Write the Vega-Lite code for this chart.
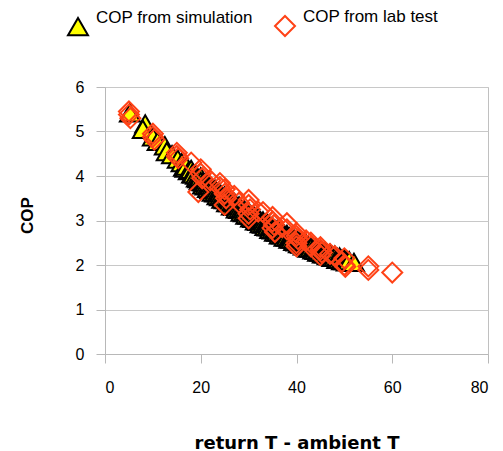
{
  "$schema": "https://vega.github.io/schema/vega-lite/v6.json",
  "width": 383,
  "height": 267,
  "autosize": {"type": "none"},
  "padding": {"left": 105, "top": 87, "right": 15, "bottom": 97},
  "background": "white",
  "config": {
    "view": {"stroke": "#c0c0c0", "strokeWidth": 1},
    "font": "Liberation Sans",
    "axis": {
      "domainColor": "#b8b8b8",
      "tickColor": "#b8b8b8",
      "gridColor": "#c8c8c8",
      "tickSize": 9,
      "labelFontSize": 16,
      "labelColor": "#000000",
      "labelFont": "Liberation Sans",
      "titleColor": "#000000",
      "titleFontWeight": "bold"
    }
  },
  "datasets": {
    "pts": [
      {"dT": 5.2, "COP": 5.42, "series": "COP from simulation"},
      {"dT": 8.4, "COP": 5.17, "series": "COP from simulation"},
      {"dT": 7.9, "COP": 5.05, "series": "COP from simulation"},
      {"dT": 10, "COP": 4.88, "series": "COP from simulation"},
      {"dT": 11, "COP": 4.78, "series": "COP from simulation"},
      {"dT": 12.5, "COP": 4.68, "series": "COP from simulation"},
      {"dT": 12.9, "COP": 4.55, "series": "COP from simulation"},
      {"dT": 14, "COP": 4.48, "series": "COP from simulation"},
      {"dT": 15.2, "COP": 4.38, "series": "COP from simulation"},
      {"dT": 16, "COP": 4.3, "series": "COP from simulation"},
      {"dT": 16.5, "COP": 4.2, "series": "COP from simulation"},
      {"dT": 16.8, "COP": 4.18, "series": "COP from simulation"},
      {"dT": 17, "COP": 4.22, "series": "COP from simulation"},
      {"dT": 17.5, "COP": 4.12, "series": "COP from simulation"},
      {"dT": 18, "COP": 4.15, "series": "COP from simulation"},
      {"dT": 18.2, "COP": 4.05, "series": "COP from simulation"},
      {"dT": 18.5, "COP": 4.05, "series": "COP from simulation"},
      {"dT": 19, "COP": 4.02, "series": "COP from simulation"},
      {"dT": 19.2, "COP": 3.96, "series": "COP from simulation"},
      {"dT": 19.5, "COP": 3.94, "series": "COP from simulation"},
      {"dT": 19.8, "COP": 3.9, "series": "COP from simulation"},
      {"dT": 20, "COP": 3.98, "series": "COP from simulation"},
      {"dT": 20, "COP": 3.88, "series": "COP from simulation"},
      {"dT": 20.5, "COP": 3.87, "series": "COP from simulation"},
      {"dT": 20.5, "COP": 3.8, "series": "COP from simulation"},
      {"dT": 21, "COP": 3.86, "series": "COP from simulation"},
      {"dT": 21, "COP": 3.78, "series": "COP from simulation"},
      {"dT": 21.5, "COP": 3.79, "series": "COP from simulation"},
      {"dT": 21.5, "COP": 3.72, "series": "COP from simulation"},
      {"dT": 22, "COP": 3.78, "series": "COP from simulation"},
      {"dT": 22, "COP": 3.7, "series": "COP from simulation"},
      {"dT": 22.5, "COP": 3.71, "series": "COP from simulation"},
      {"dT": 22.5, "COP": 3.64, "series": "COP from simulation"},
      {"dT": 23, "COP": 3.7, "series": "COP from simulation"},
      {"dT": 23, "COP": 3.62, "series": "COP from simulation"},
      {"dT": 23.5, "COP": 3.63, "series": "COP from simulation"},
      {"dT": 23.5, "COP": 3.56, "series": "COP from simulation"},
      {"dT": 24, "COP": 3.62, "series": "COP from simulation"},
      {"dT": 24, "COP": 3.54, "series": "COP from simulation"},
      {"dT": 24.5, "COP": 3.55, "series": "COP from simulation"},
      {"dT": 24.5, "COP": 3.48, "series": "COP from simulation"},
      {"dT": 25, "COP": 3.55, "series": "COP from simulation"},
      {"dT": 25, "COP": 3.47, "series": "COP from simulation"},
      {"dT": 25.5, "COP": 3.47, "series": "COP from simulation"},
      {"dT": 25.5, "COP": 3.4, "series": "COP from simulation"},
      {"dT": 26, "COP": 3.47, "series": "COP from simulation"},
      {"dT": 26, "COP": 3.4, "series": "COP from simulation"},
      {"dT": 26.5, "COP": 3.4, "series": "COP from simulation"},
      {"dT": 26.5, "COP": 3.33, "series": "COP from simulation"},
      {"dT": 27, "COP": 3.4, "series": "COP from simulation"},
      {"dT": 27, "COP": 3.32, "series": "COP from simulation"},
      {"dT": 27.5, "COP": 3.33, "series": "COP from simulation"},
      {"dT": 27.5, "COP": 3.26, "series": "COP from simulation"},
      {"dT": 28, "COP": 3.33, "series": "COP from simulation"},
      {"dT": 28, "COP": 3.25, "series": "COP from simulation"},
      {"dT": 28.5, "COP": 3.26, "series": "COP from simulation"},
      {"dT": 28.5, "COP": 3.19, "series": "COP from simulation"},
      {"dT": 29, "COP": 3.26, "series": "COP from simulation"},
      {"dT": 29, "COP": 3.18, "series": "COP from simulation"},
      {"dT": 29.5, "COP": 3.19, "series": "COP from simulation"},
      {"dT": 29.5, "COP": 3.12, "series": "COP from simulation"},
      {"dT": 30, "COP": 3.2, "series": "COP from simulation"},
      {"dT": 30, "COP": 3.12, "series": "COP from simulation"},
      {"dT": 30.5, "COP": 3.12, "series": "COP from simulation"},
      {"dT": 30.5, "COP": 3.06, "series": "COP from simulation"},
      {"dT": 31, "COP": 3.12, "series": "COP from simulation"},
      {"dT": 31, "COP": 3.05, "series": "COP from simulation"},
      {"dT": 31.5, "COP": 3.05, "series": "COP from simulation"},
      {"dT": 31.5, "COP": 2.99, "series": "COP from simulation"},
      {"dT": 32, "COP": 3.05, "series": "COP from simulation"},
      {"dT": 32, "COP": 2.98, "series": "COP from simulation"},
      {"dT": 32.5, "COP": 2.99, "series": "COP from simulation"},
      {"dT": 32.5, "COP": 2.93, "series": "COP from simulation"},
      {"dT": 33, "COP": 2.99, "series": "COP from simulation"},
      {"dT": 33, "COP": 2.92, "series": "COP from simulation"},
      {"dT": 33.5, "COP": 2.93, "series": "COP from simulation"},
      {"dT": 33.5, "COP": 2.87, "series": "COP from simulation"},
      {"dT": 34, "COP": 2.93, "series": "COP from simulation"},
      {"dT": 34, "COP": 2.86, "series": "COP from simulation"},
      {"dT": 34.5, "COP": 2.86, "series": "COP from simulation"},
      {"dT": 34.5, "COP": 2.8, "series": "COP from simulation"},
      {"dT": 35, "COP": 2.86, "series": "COP from simulation"},
      {"dT": 35, "COP": 2.79, "series": "COP from simulation"},
      {"dT": 35.5, "COP": 2.8, "series": "COP from simulation"},
      {"dT": 35.5, "COP": 2.74, "series": "COP from simulation"},
      {"dT": 36, "COP": 2.8, "series": "COP from simulation"},
      {"dT": 36, "COP": 2.74, "series": "COP from simulation"},
      {"dT": 36.5, "COP": 2.74, "series": "COP from simulation"},
      {"dT": 36.5, "COP": 2.68, "series": "COP from simulation"},
      {"dT": 37, "COP": 2.74, "series": "COP from simulation"},
      {"dT": 37, "COP": 2.68, "series": "COP from simulation"},
      {"dT": 37.5, "COP": 2.69, "series": "COP from simulation"},
      {"dT": 37.5, "COP": 2.63, "series": "COP from simulation"},
      {"dT": 38, "COP": 2.69, "series": "COP from simulation"},
      {"dT": 38, "COP": 2.63, "series": "COP from simulation"},
      {"dT": 38.5, "COP": 2.63, "series": "COP from simulation"},
      {"dT": 38.5, "COP": 2.58, "series": "COP from simulation"},
      {"dT": 39, "COP": 2.63, "series": "COP from simulation"},
      {"dT": 39, "COP": 2.58, "series": "COP from simulation"},
      {"dT": 39.5, "COP": 2.58, "series": "COP from simulation"},
      {"dT": 39.5, "COP": 2.53, "series": "COP from simulation"},
      {"dT": 40, "COP": 2.58, "series": "COP from simulation"},
      {"dT": 40, "COP": 2.52, "series": "COP from simulation"},
      {"dT": 40.5, "COP": 2.53, "series": "COP from simulation"},
      {"dT": 40.5, "COP": 2.48, "series": "COP from simulation"},
      {"dT": 41, "COP": 2.53, "series": "COP from simulation"},
      {"dT": 41, "COP": 2.47, "series": "COP from simulation"},
      {"dT": 41.5, "COP": 2.48, "series": "COP from simulation"},
      {"dT": 41.5, "COP": 2.43, "series": "COP from simulation"},
      {"dT": 42, "COP": 2.48, "series": "COP from simulation"},
      {"dT": 42, "COP": 2.42, "series": "COP from simulation"},
      {"dT": 42.5, "COP": 2.43, "series": "COP from simulation"},
      {"dT": 42.5, "COP": 2.38, "series": "COP from simulation"},
      {"dT": 43, "COP": 2.43, "series": "COP from simulation"},
      {"dT": 43, "COP": 2.38, "series": "COP from simulation"},
      {"dT": 43.5, "COP": 2.38, "series": "COP from simulation"},
      {"dT": 43.5, "COP": 2.34, "series": "COP from simulation"},
      {"dT": 44, "COP": 2.38, "series": "COP from simulation"},
      {"dT": 44, "COP": 2.33, "series": "COP from simulation"},
      {"dT": 44.5, "COP": 2.34, "series": "COP from simulation"},
      {"dT": 44.5, "COP": 2.29, "series": "COP from simulation"},
      {"dT": 45, "COP": 2.34, "series": "COP from simulation"},
      {"dT": 45, "COP": 2.29, "series": "COP from simulation"},
      {"dT": 45.5, "COP": 2.29, "series": "COP from simulation"},
      {"dT": 45.5, "COP": 2.25, "series": "COP from simulation"},
      {"dT": 46, "COP": 2.3, "series": "COP from simulation"},
      {"dT": 46, "COP": 2.25, "series": "COP from simulation"},
      {"dT": 46.5, "COP": 2.25, "series": "COP from simulation"},
      {"dT": 46.5, "COP": 2.21, "series": "COP from simulation"},
      {"dT": 47, "COP": 2.26, "series": "COP from simulation"},
      {"dT": 47, "COP": 2.2, "series": "COP from simulation"},
      {"dT": 47.5, "COP": 2.21, "series": "COP from simulation"},
      {"dT": 47.5, "COP": 2.17, "series": "COP from simulation"},
      {"dT": 48, "COP": 2.22, "series": "COP from simulation"},
      {"dT": 48, "COP": 2.17, "series": "COP from simulation"},
      {"dT": 48.5, "COP": 2.17, "series": "COP from simulation"},
      {"dT": 48.5, "COP": 2.13, "series": "COP from simulation"},
      {"dT": 49, "COP": 2.18, "series": "COP from simulation"},
      {"dT": 49, "COP": 2.13, "series": "COP from simulation"},
      {"dT": 49.5, "COP": 2.13, "series": "COP from simulation"},
      {"dT": 49.5, "COP": 2.1, "series": "COP from simulation"},
      {"dT": 50, "COP": 2.14, "series": "COP from simulation"},
      {"dT": 50, "COP": 2.1, "series": "COP from simulation"},
      {"dT": 50.5, "COP": 2.1, "series": "COP from simulation"},
      {"dT": 50.5, "COP": 2.07, "series": "COP from simulation"},
      {"dT": 51, "COP": 2.1, "series": "COP from simulation"},
      {"dT": 52, "COP": 2.06, "series": "COP from simulation"},
      {"dT": 5, "COP": 5.45, "series": "COP from lab test"},
      {"dT": 5, "COP": 5.38, "series": "COP from lab test"},
      {"dT": 5.3, "COP": 5.3, "series": "COP from lab test"},
      {"dT": 10, "COP": 4.95, "series": "COP from lab test"},
      {"dT": 10, "COP": 4.88, "series": "COP from lab test"},
      {"dT": 10.3, "COP": 4.82, "series": "COP from lab test"},
      {"dT": 15, "COP": 4.52, "series": "COP from lab test"},
      {"dT": 15, "COP": 4.45, "series": "COP from lab test"},
      {"dT": 15.3, "COP": 4.4, "series": "COP from lab test"},
      {"dT": 18, "COP": 4.3, "series": "COP from lab test"},
      {"dT": 20, "COP": 4.15, "series": "COP from lab test"},
      {"dT": 20, "COP": 4.05, "series": "COP from lab test"},
      {"dT": 20.3, "COP": 3.95, "series": "COP from lab test"},
      {"dT": 19.5, "COP": 3.64, "series": "COP from lab test"},
      {"dT": 22, "COP": 3.9, "series": "COP from lab test"},
      {"dT": 24, "COP": 3.84, "series": "COP from lab test"},
      {"dT": 24, "COP": 3.75, "series": "COP from lab test"},
      {"dT": 25, "COP": 3.7, "series": "COP from lab test"},
      {"dT": 25, "COP": 3.6, "series": "COP from lab test"},
      {"dT": 25.3, "COP": 3.5, "series": "COP from lab test"},
      {"dT": 25, "COP": 3.35, "series": "COP from lab test"},
      {"dT": 27, "COP": 3.55, "series": "COP from lab test"},
      {"dT": 28, "COP": 3.4, "series": "COP from lab test"},
      {"dT": 30, "COP": 3.46, "series": "COP from lab test"},
      {"dT": 30, "COP": 3.35, "series": "COP from lab test"},
      {"dT": 30.3, "COP": 3.25, "series": "COP from lab test"},
      {"dT": 30, "COP": 3.15, "series": "COP from lab test"},
      {"dT": 30, "COP": 3.05, "series": "COP from lab test"},
      {"dT": 32, "COP": 3.2, "series": "COP from lab test"},
      {"dT": 33, "COP": 3.19, "series": "COP from lab test"},
      {"dT": 35, "COP": 3.08, "series": "COP from lab test"},
      {"dT": 35, "COP": 2.98, "series": "COP from lab test"},
      {"dT": 35.3, "COP": 2.9, "series": "COP from lab test"},
      {"dT": 35, "COP": 2.83, "series": "COP from lab test"},
      {"dT": 35.5, "COP": 2.74, "series": "COP from lab test"},
      {"dT": 37, "COP": 2.85, "series": "COP from lab test"},
      {"dT": 38, "COP": 2.94, "series": "COP from lab test"},
      {"dT": 38, "COP": 2.8, "series": "COP from lab test"},
      {"dT": 40, "COP": 2.72, "series": "COP from lab test"},
      {"dT": 40, "COP": 2.65, "series": "COP from lab test"},
      {"dT": 40.3, "COP": 2.58, "series": "COP from lab test"},
      {"dT": 40, "COP": 2.49, "series": "COP from lab test"},
      {"dT": 40, "COP": 2.42, "series": "COP from lab test"},
      {"dT": 42, "COP": 2.55, "series": "COP from lab test"},
      {"dT": 43, "COP": 2.5, "series": "COP from lab test"},
      {"dT": 43, "COP": 2.42, "series": "COP from lab test"},
      {"dT": 45, "COP": 2.4, "series": "COP from lab test"},
      {"dT": 45, "COP": 2.34, "series": "COP from lab test"},
      {"dT": 45.3, "COP": 2.28, "series": "COP from lab test"},
      {"dT": 45, "COP": 2.22, "series": "COP from lab test"},
      {"dT": 47, "COP": 2.25, "series": "COP from lab test"},
      {"dT": 48, "COP": 2.2, "series": "COP from lab test"},
      {"dT": 50, "COP": 2.15, "series": "COP from lab test"},
      {"dT": 49.5, "COP": 2.07, "series": "COP from lab test"},
      {"dT": 50, "COP": 2.0, "series": "COP from lab test"},
      {"dT": 50.2, "COP": 1.96, "series": "COP from lab test"},
      {"dT": 55, "COP": 1.97, "series": "COP from lab test"},
      {"dT": 55, "COP": 1.89, "series": "COP from lab test"},
      {"dT": 60, "COP": 1.83, "series": "COP from lab test"}
    ]
  },
  "data": {"name": "pts"},
  "mark": {"type": "point", "size": 400, "strokeWidth": 2, "opacity": 1},
  "encoding": {
    "x": {
      "field": "dT",
      "type": "quantitative",
      "scale": {"domain": [0, 80], "nice": false},
      "axis": {
        "values": [0, 20, 40, 60, 80],
        "grid": false,
        "labelPadding": 16,
        "title": "return T - ambient T",
        "titleFont": "DejaVu Sans",
        "titleFontSize": 18,
        "titleY": 94,
        "titleBaseline": "alphabetic"
      }
    },
    "y": {
      "field": "COP",
      "type": "quantitative",
      "scale": {"domain": [0, 6], "nice": false},
      "axis": {
        "values": [0, 1, 2, 3, 4, 5, 6],
        "grid": true,
        "labelPadding": 12,
        "title": "COP",
        "titleFont": "Liberation Sans",
        "titleFontSize": 17,
        "titleX": -78,
        "titleY": 128,
        "titleAngle": -90,
        "titleAlign": "center",
        "titleBaseline": "middle"
      }
    },
    "shape": {
      "field": "series",
      "type": "nominal",
      "scale": {"domain": ["COP from simulation", "COP from lab test"], "range": ["triangle-up", "diamond"]},
      "legend": {
        "title": null,
        "orient": "none",
        "direction": "horizontal",
        "legendX": -38,
        "legendY": -72,
        "padding": 0,
        "symbolSize": 400,
        "symbolStrokeWidth": 2,
        "labelFontSize": 17,
        "labelFont": "Liberation Sans",
        "labelColor": "#000000",
        "labelBaseline": "bottom",
        "labelOffset": 7,
        "columnPadding": 18,
        "labelLimit": 300
      }
    },
    "fill": {
      "field": "series",
      "type": "nominal",
      "scale": {"domain": ["COP from simulation", "COP from lab test"], "range": ["#ffff00", "transparent"]}
    },
    "stroke": {
      "field": "series",
      "type": "nominal",
      "scale": {"domain": ["COP from simulation", "COP from lab test"], "range": ["#000000", "#ff4216"]}
    }
  }
}
